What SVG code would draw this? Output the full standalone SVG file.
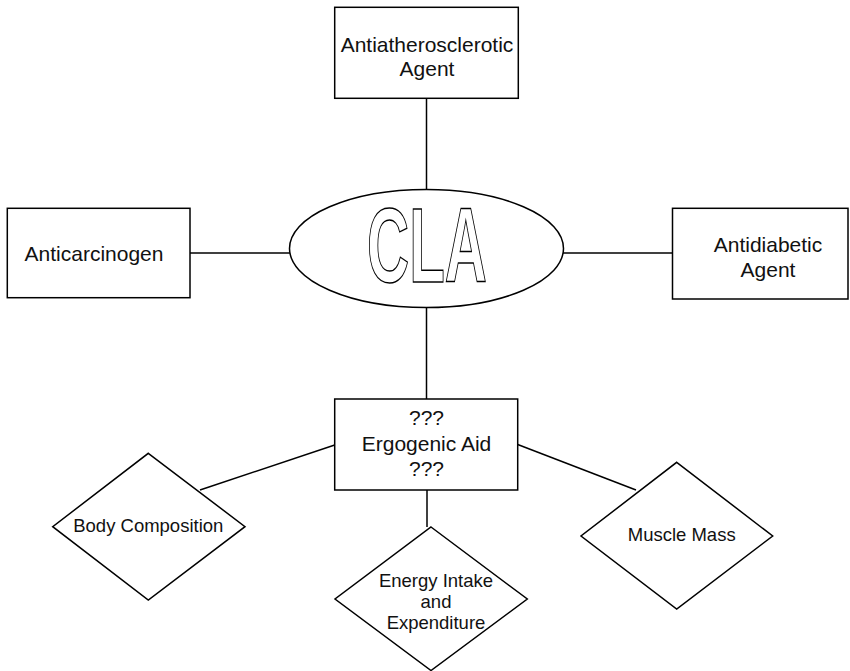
<svg xmlns="http://www.w3.org/2000/svg" width="850" height="671" viewBox="0 0 850 671">
<style>
.shape{fill:#fff;stroke:#000;stroke-width:1.5}
.conn line{stroke:#000;stroke-width:1.5}
.t{font-family:"Liberation Sans",Arial,sans-serif;font-size:21px;fill:#111;text-anchor:middle}
.s{font-family:"Liberation Sans",Arial,sans-serif;font-size:18.5px;fill:#111;text-anchor:middle}
.cla{font-family:"Liberation Sans",Arial,sans-serif;font-weight:bold;font-size:105px;fill:#fff;stroke:#000;stroke-width:1.4}
</style>
<rect width="850" height="671" fill="#fff"/>
<g class="conn" id="connectors">
<line x1="426.5" y1="98" x2="426.5" y2="190"/>
<line x1="190" y1="253" x2="290" y2="253"/>
<line x1="563" y1="253" x2="672.5" y2="253"/>
<line x1="426.5" y1="307" x2="426.5" y2="399"/>
<line x1="427" y1="490" x2="427" y2="527"/>
<line x1="334.7" y1="445" x2="200" y2="490"/>
<line x1="517.7" y1="444.5" x2="636" y2="490"/>
</g>
<g id="node-antiatherosclerotic">
<rect class="shape" x="334.7" y="7.3" width="183.6" height="91"/>
<text class="t" x="427" y="51.5">Antiatherosclerotic</text>
<text class="t" x="427" y="75.5">Agent</text>
</g>
<g id="node-anticarcinogen">
<rect class="shape" x="7.3" y="208.3" width="182.7" height="89.4"/>
<text class="t" x="94" y="261">Anticarcinogen</text>
</g>
<g id="node-antidiabetic">
<rect class="shape" x="672.5" y="208.3" width="175.5" height="90.7"/>
<text class="t" x="768" y="251.5">Antidiabetic</text>
<text class="t" x="768" y="276.5">Agent</text>
</g>
<g id="node-cla">
<ellipse class="shape" cx="426.5" cy="248.5" rx="137" ry="59"/>
<text class="cla" x="367" y="281.7" textLength="120" lengthAdjust="spacingAndGlyphs" style="text-anchor:start">CLA</text>
</g>
<g id="node-ergogenic">
<rect class="shape" x="334.7" y="399" width="183" height="91"/>
<text class="t" x="426.5" y="425">???</text>
<text class="t" x="426.5" y="450.5">Ergogenic Aid</text>
<text class="t" x="426.5" y="475.5">???</text>
</g>
<g id="node-body">
<polygon class="shape" points="148.3,453.3 245,526.7 148.3,600 52.7,526.7"/>
<text class="s" x="148.3" y="532.3">Body Composition</text>
</g>
<g id="node-energy">
<polygon class="shape" points="431,527 527.3,599 431,670.5 335,599"/>
<text class="s" x="436" y="586.5">Energy Intake</text>
<text class="s" x="436" y="607.5">and</text>
<text class="s" x="436" y="629">Expenditure</text>
</g>
<g id="node-muscle">
<polygon class="shape" points="676.7,462.3 772.7,536 676.7,609 581,536"/>
<text class="s" x="681.7" y="540.7">Muscle Mass</text>
</g>
</svg>
